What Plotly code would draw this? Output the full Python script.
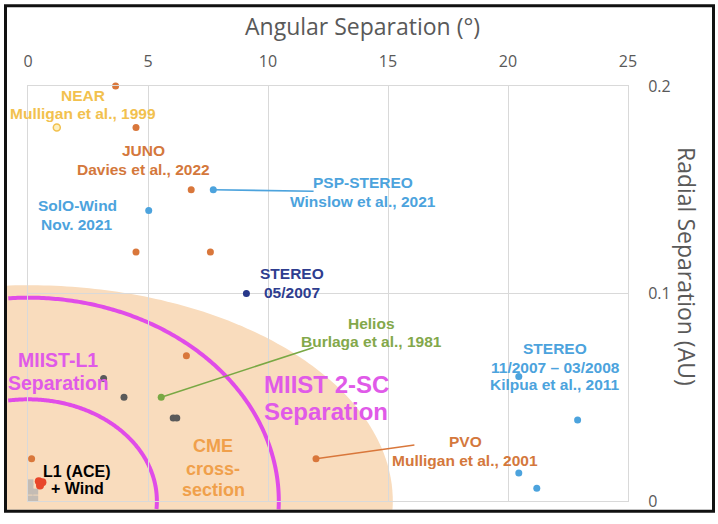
import numpy as np
import plotly.graph_objects as go

# ---------------- data ----------------
juno_x = [3.65, 4.5, 6.8, 4.5, 7.6]
juno_y = [0.200, 0.180, 0.150, 0.120, 0.120]
orange_other_x = [6.6, 0.15]
orange_other_y = [0.070, 0.0204]
pvo_x = [12.0]
pvo_y = [0.0204]
near_x = [1.2]
near_y = [0.180]
solo_x = [5.03]
solo_y = [0.140]
psp_x = [7.72]
psp_y = [0.150]
kilpua_x = [20.45, 22.9, 20.45, 21.2]
kilpua_y = [0.060, 0.039, 0.0135, 0.0062]
stereo07_x = [9.1]
stereo07_y = [0.100]
helios_x = [5.55]
helios_y = [0.050]
gray_x = [3.15, 4.0, 6.05, 6.2]
gray_y = [0.059, 0.050, 0.040, 0.040]
l1_gray_x = [0.1, 0.1, 0.1, 0.1, 0.3, 0.3]
l1_gray_y = [0.009, 0.007, 0.0045, 0.0012, 0.0012, 0.0045]
l1_red_x = [0.45, 0.6, 0.5]
l1_red_y = [0.0095, 0.009, 0.0075]

# leader-line label ends
psp_leader_end = (11.9, 0.1493)
helios_leader_end = (11.9, 0.074)
pvo_leader_end = (16.1, 0.027)

# regions (semi-axes in degrees, AU), centred at origin
cme_ab = (15.2, 0.104)
l1_sep_ab = (5.37, 0.049)
sc2_sep_ab = (10.45, 0.098)

x_ticks = [0, 5, 10, 15, 20, 25]
y_ticks = [0, 0.1, 0.2]
y_ticktext = ["0", "0.1", "0.2"]
X_RANGE = [0, 25]
Y_RANGE = [0, 0.2]

# ---------------- styling ----------------
W, H = 718, 524
PL, PR, PT, PB = 28, 628, 86, 508   # plot area in pixels
ML, MT = PL, PT
MR = W - PR
MB = H - PB
PW, PH = PR - PL, PB - PT

ORANGE = "#d9773b"
BLUE = "#4ca3dd"
NAVY = "#27388a"
GREEN = "#79a844"
MAG = "#e04ce8"
PEACH = "#f9dcbd"
TICKC = "#595959"


def px2paper_x(px):
    return (px - PL) / PW


def px2paper_y(py):
    return (PB - py) / PH


def d2p(x, y):
    return (np.asarray(x) - X_RANGE[0]) / (X_RANGE[1] - X_RANGE[0]), \
           (np.asarray(y) - Y_RANGE[0]) / (Y_RANGE[1] - Y_RANGE[0])


# clip box (inside frame)
CXL, CXR = px2paper_x(7), px2paper_x(712)
CYB, CYT = px2paper_y(517), px2paper_y(6)

fig = go.Figure()


def pts(name, xs, ys, color, size=7, line=None, symbol="circle"):
    fig.add_trace(go.Scatter(
        x=xs, y=ys, mode="markers", name=name, showlegend=False,
        marker=dict(color=color, size=size, symbol=symbol,
                    line=line or dict(width=0)),
        cliponaxis=False, hoverinfo="x+y"))


def leader(x0, y0, end, color):
    fig.add_trace(go.Scatter(
        x=[x0, end[0]], y=[y0, end[1]], mode="lines", showlegend=False,
        line=dict(color=color, width=1.6), hoverinfo="skip"))


leader(psp_x[0], psp_y[0], psp_leader_end, BLUE)
leader(helios_x[0], helios_y[0], helios_leader_end, GREEN)
leader(pvo_x[0], pvo_y[0], pvo_leader_end, ORANGE)

pts("JUNO", juno_x, juno_y, ORANGE)
pts("orange", orange_other_x, orange_other_y, ORANGE)
pts("PVO", pvo_x, pvo_y, ORANGE)
pts("NEAR", near_x, near_y, "#fdf0c0", size=7, line=dict(color="#f2c14e", width=1.5))
pts("SolO", solo_x, solo_y, BLUE)
pts("PSP", psp_x, psp_y, BLUE)
pts("Kilpua", kilpua_x, kilpua_y, BLUE)
pts("STEREO 2007", stereo07_x, stereo07_y, NAVY)
pts("Helios", helios_x, helios_y, GREEN)
pts("gray", gray_x, gray_y, "#5a5a5a")
pts("L1 gray", l1_gray_x, l1_gray_y, "#c4bcb4", size=6, symbol="square")
pts("L1 red", l1_red_x, l1_red_y, "#e8462a", size=8)

# ---------- shapes: regions ----------
t = np.linspace(0, 2 * np.pi, 400)
ex, ey = d2p(cme_ab[0] * np.cos(t), cme_ab[1] * np.sin(t))
ex = np.clip(ex, CXL, CXR)
ey = np.clip(ey, CYB, CYT)
path = "M " + " L ".join(f"{a:.5f},{b:.5f}" for a, b in zip(ex, ey)) + " Z"
shapes = [dict(type="path", xref="paper", yref="paper", path=path,
               fillcolor=PEACH, line=dict(width=0), layer="below")]


def arc(ab):
    tt = np.linspace(np.pi, -np.pi / 2, 500)
    ax_, ay_ = d2p(ab[0] * np.cos(tt), ab[1] * np.sin(tt))
    keep = (ax_ >= CXL) & (ay_ >= CYB)
    ax_, ay_ = ax_[keep], ay_[keep]
    return "M " + " L ".join(f"{a:.5f},{b:.5f}" for a, b in zip(ax_, ay_))


for ab in (l1_sep_ab, sc2_sep_ab):
    shapes.append(dict(type="path", xref="paper", yref="paper", path=arc(ab),
                       line=dict(color=MAG, width=4), layer="below"))

# outer frame
shapes.append(dict(type="rect", xref="paper", yref="paper",
                   x0=px2paper_x(5.5), x1=px2paper_x(713.5),
                   y0=px2paper_y(518.5), y1=px2paper_y(4.5),
                   line=dict(color="#111111", width=3), layer="above"))

# ---------- annotations ----------
FONT = "Liberation Sans, Arial, sans-serif"
annos = []


def lab(lines, xc, ys, color, size=15.5):
    """one annotation per text line: centre x (px) and line centres (px)."""
    for txt, yy in zip(lines, ys):
        annos.append(dict(text=txt, x=px2paper_x(xc), y=px2paper_y(yy),
                          xref="paper", yref="paper", showarrow=False,
                          xanchor="center", yanchor="middle",
                          font=dict(family=FONT, size=size, color=color,
                                    weight="bold")))


lab(["NEAR", "Mulligan et al., 1999"], 83, [95.5, 113.5], "#f2c14e")
lab(["JUNO", "Davies et al., 2022"], 143, [152, 170.5], "#d4783c")
lab(["SolO-Wind", "Nov. 2021"], 77, [208, 227], BLUE)
lab(["PSP-STEREO", "Winslow et al., 2021"], 363, [184, 203], BLUE)
lab(["STEREO", "05/2007"], 291.5, [277, 296], "#2e3d8f")
lab(["Helios", "Burlaga et al., 1981"], 371, [327, 346], "#83a84b")
lab(["MIIST-L1", "Separation"], 58, [365, 388.5], "#e05ae8", 19.5)
lab(["MIIST 2-SC", "Separation"], 326, [390, 417], "#e05ae8", 24)
lab(["CME", "cross-", "section"], 213, [452, 475, 497], "#f0a04b", 18)
lab(["L1 (ACE)", "+ Wind"], 77, [478, 495], "#000000", 16)
lab(["PVO", "Mulligan et al., 2001"], 465, [448, 467], "#d4783c")
lab(["STEREO", "11/2007 – 03/2008", "Kilpua et al., 2011"], 555,
    [353, 372, 390], BLUE)

annos.append(dict(text="Angular Separation (°)", x=px2paper_x(362), y=px2paper_y(25),
                  xref="paper", yref="paper", showarrow=False,
                  xanchor="center", yanchor="middle",
                  font=dict(family="Open Sans, sans-serif", size=23, color=TICKC)))
annos.append(dict(text="Radial Separation (AU)", x=px2paper_x(687), y=px2paper_y(269),
                  xref="paper", yref="paper", showarrow=False, textangle=90,
                  xanchor="center", yanchor="middle",
                  font=dict(family="Open Sans, sans-serif", size=23, color=TICKC)))

fig.update_layout(
    width=W, height=H,
    margin=dict(l=ML, r=MR, t=MT, b=MB, pad=0),
    paper_bgcolor="white", plot_bgcolor="white",
    showlegend=False,
    shapes=shapes, annotations=annos,
    xaxis=dict(range=X_RANGE, side="top", tickvals=x_ticks,
               ticktext=[str(v) for v in x_ticks],
               showgrid=True, gridcolor="#d9d9d9", gridwidth=1,
               zeroline=False, showline=True, mirror=True,
               linecolor="#d9d9d9", linewidth=1,
               ticks="outside", ticklen=12, tickcolor="rgba(0,0,0,0)",
               tickfont=dict(family="Open Sans, sans-serif", size=16, color=TICKC),
               fixedrange=True),
    yaxis=dict(range=Y_RANGE, side="right", tickvals=y_ticks,
               ticktext=y_ticktext,
               showgrid=True, gridcolor="#d9d9d9", gridwidth=1,
               zeroline=False, showline=True, mirror=True,
               linecolor="#d9d9d9", linewidth=1,
               ticks="outside", ticklen=16, tickcolor="rgba(0,0,0,0)",
               tickfont=dict(family="Open Sans, sans-serif", size=16, color=TICKC),
               fixedrange=True),
)

fig.write_html("out.html", config={"displayModeBar": False},
               post_script="document.body.style.margin='0px';")
